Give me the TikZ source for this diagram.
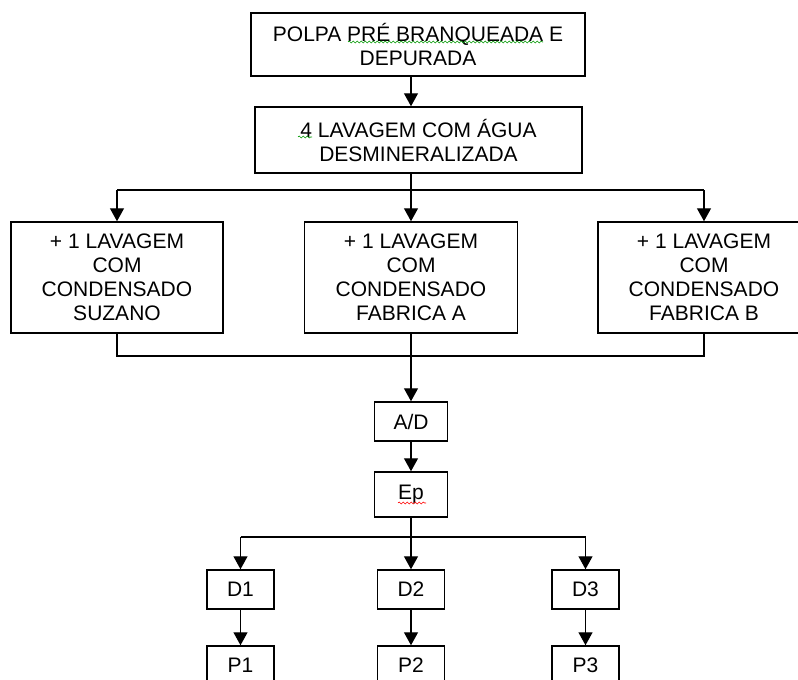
\documentclass[tikz,border=0pt]{standalone}
\usepackage{fontspec}
\setmainfont{Liberation Sans}
\usetikzlibrary{arrows.meta,positioning,decorations.pathmorphing}
\tikzstyle{stepbox} = [rectangle, draw=black, line width=1.5pt, fill=white, align=center, inner sep=0pt, font=\fontsize{21}{24}\selectfont]
\tikzstyle{flowarrow} = [line width=1.4pt, -{Triangle[length=13pt,width=14pt]}]
\tikzstyle{flowline} = [line width=1.4pt]
\tikzstyle{spell} = [decorate, decoration={snake, amplitude=1pt, segment length=4pt}, line width=0.6pt]

\begin{document}
\begin{tikzpicture}[x=1pt, y=-1pt]
\clip (0,0) rectangle (798,680);
\coordinate (spine) at (411,0);

% Pulp and first washing
\node[stepbox, minimum width=334pt, minimum height=63pt] (polpa) at (418,44.5) {POLPA PRÉ BRANQUEADA E\\DEPURADA};
\node[stepbox, minimum width=327pt, minimum height=66pt] (lavagem) at (418.5,140) {4 LAVAGEM COM ÁGUA\\DESMINERALIZADA};

% Condensate washings
\node[stepbox, minimum width=212pt, minimum height=111pt] (suzano) at (117,277.5) {+ 1 LAVAGEM\\COM\\CONDENSADO\\SUZANO};
\node[stepbox, minimum width=213pt, minimum height=111pt] (fabA) at (411,277.5) {+ 1 LAVAGEM\\COM\\CONDENSADO\\FABRICA A};
\node[stepbox, minimum width=212pt, minimum height=111pt] (fabB) at (704,277.5) {+ 1 LAVAGEM\\COM\\CONDENSADO\\FABRICA B};

% Bleaching stages
\node[stepbox, minimum width=73pt, minimum height=39pt] (ad) at (411,421.5) {A/D};
\node[stepbox, minimum width=73pt, minimum height=45pt] (ep) at (411,494.5) {Ep};

% Final stages
\node[stepbox, minimum width=67pt, minimum height=39pt] (d1) at (240.5,589.5) {D1};
\node[stepbox, minimum width=67pt, minimum height=39pt] (d2) at (411,589.5) {D2};
\node[stepbox, minimum width=67pt, minimum height=39pt] (d3) at (585.5,589.5) {D3};
\node[stepbox, minimum width=67pt, minimum height=39pt] (p1) at (240.5,665.5) {P1};
\node[stepbox, minimum width=67pt, minimum height=39pt] (p2) at (411,665.5) {P2};
\node[stepbox, minimum width=67pt, minimum height=39pt] (p3) at (585.5,665.5) {P3};

% Spell-check marks
\draw[spell, green!60!black] (348,42) -- (543,42);
\draw[spell, green!60!black] (298,137) -- (312,137);
\draw[spell, red] (398,503) -- (426,503);

% Arrows
\coordinate (split1) at (411,190);
\coordinate (merge) at (411,356);
\coordinate (split2) at (411,537);
\draw[flowarrow] (polpa.south -| spine) -- (lavagem.north -| spine);
\draw[flowline] (lavagem.south -| spine) -- (split1);
\draw[flowline] (split1 -| suzano) -- (split1 -| fabB);
\foreach \n in {suzano,fabA,fabB}
  \draw[flowarrow] (split1 -| \n) -- (\n.north);
\draw[flowline] (suzano.south) |- (merge) -| (fabB.south);
\draw[flowarrow] (fabA.south) -- (ad.north);
\draw[flowarrow] (ad) -- (ep);
\draw[flowline] (ep.south) -- (split2);
\draw[flowline] (split2 -| d1) -- (split2 -| d3);
\foreach \n in {d1,d2,d3}
  \draw[flowarrow] (split2 -| \n) -- (\n.north);
\draw[flowarrow] (d1) -- (p1);
\draw[flowarrow] (d2) -- (p2);
\draw[flowarrow] (d3) -- (p3);
\end{tikzpicture}
\end{document}
